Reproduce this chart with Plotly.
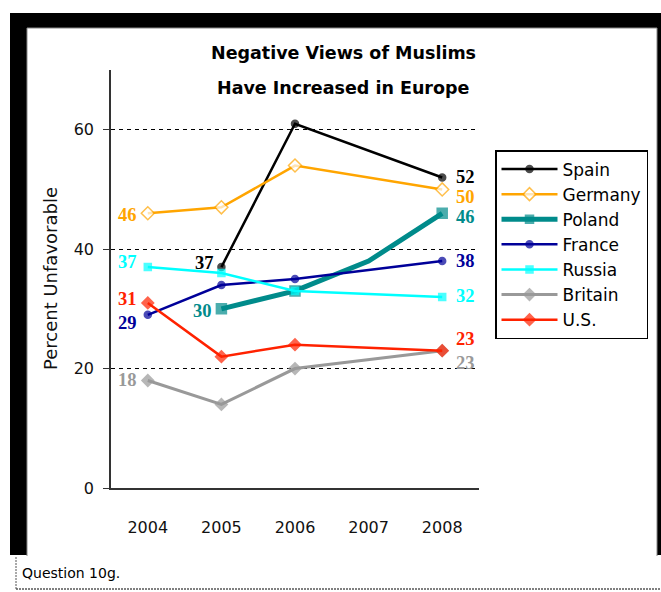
import plotly.graph_objects as go

# ---------------- data ----------------
years = ["2004", "2005", "2006", "2007", "2008"]
spain   = [None, 37, 61, None, 52]
germany = [46, 47, 54, None, 50]
poland  = [None, 30, 33, 38, 46]
france  = [29, 34, 35, None, 38]
russia  = [37, 36, 33, None, 32]
britain = [18, 14, 20, None, 23]
us      = [31, 22, 24, None, 23]
series_names = ["Spain", "Germany", "Poland", "France", "Russia", "Britain", "U.S."]
series_vals = [spain, germany, poland, france, russia, britain, us]
y_ticks = [0, 20, 40, 60]

title1 = "Negative Views of Muslims"
title2 = "Have Increased in Europe"
y_title = "Percent Unfavorable"
footnote = "Question 10g."

# ---------------- styles ----------------
styles = {
    "Spain":   dict(color="#000000", width=2.5, symbol="circle", size=7, fill="#000000"),
    "Germany": dict(color="#FFA500", width=2.5, symbol="diamond", size=10, fill="#FFFFFF"),
    "Poland":  dict(color="#008B8B", width=5, symbol="square", size=10, fill="#008B8B"),
    "France":  dict(color="#000099", width=2.5, symbol="circle", size=7, fill="#000099"),
    "Russia":  dict(color="#00FFFF", width=2.5, symbol="square", size=7, fill="#00FFFF"),
    "Britain": dict(color="#999999", width=3, symbol="diamond", size=9, fill="#999999"),
    "U.S.":    dict(color="#FF2200", width=2.5, symbol="diamond", size=9, fill="#FF2200"),
}
# label placement: (point index, side, xshift, yshift)
label_pos = {
    "Spain":   [(1, "left", -5, 4), (4, "right", 12, 0)],
    "Germany": [(0, "left", -9, -2), (4, "right", 12, -8)],
    "Poland":  [(1, "left", -7, -2), (4, "right", 12, -4)],
    "France":  [(0, "left", -9, -8), (4, "right", 12, 0)],
    "Russia":  [(0, "left", -9, 5), (4, "right", 12, 1)],
    "Britain": [(0, "left", -9, 1), (4, "right", 12, -12)],
    "U.S.":    [(0, "left", -9, 4), (4, "right", 12, 12)],
}

# plot-area pixel box
L, R, T, B = 111, 479, 70, 488
W, H = R - L, B - T
def px(x):
    return (x - L) / W
def py(y):
    return (B - y) / H

fig = go.Figure()
for name, vals in zip(series_names, series_vals):
    st = styles[name]
    sizes = [st["size"]] * len(vals)
    # point present only as a line bend (no marker drawn in the reference)
    if name == "Poland":
        sizes[3] = 0
    fig.add_trace(go.Scatter(
        x=years, y=vals, name=name, mode="lines+markers",
        connectgaps=True,
        line=dict(color=st["color"], width=st["width"]),
        marker=dict(symbol=st["symbol"], size=sizes, color=st["fill"],
                    line=dict(color=st["color"], width=1.5)),
    ))

annotations = []
for name, vals in zip(series_names, series_vals):
    st = styles[name]
    for idx, side, xs, ys in label_pos[name]:
        annotations.append(dict(
            x=idx, y=vals[idx], xref="x", yref="y",
            text="<b>%s</b>" % vals[idx], showarrow=False,
            xanchor="right" if side == "left" else "left", yanchor="middle",
            xshift=xs, yshift=ys,
            font=dict(family="Liberation Serif", size=18.5, color=st["color"]),
        ))

annotations += [
    dict(x=px(343), y=py(53), xref="paper", yref="paper", text="<b>%s</b>" % title1,
         showarrow=False, xanchor="center", yanchor="middle",
         font=dict(family="DejaVu Sans", size=17.5, color="#000")),
    dict(x=px(343), y=py(88), xref="paper", yref="paper", text="<b>%s</b>" % title2,
         showarrow=False, xanchor="center", yanchor="middle",
         font=dict(family="DejaVu Sans", size=17.5, color="#000")),
    dict(x=px(50), y=py(279), xref="paper", yref="paper", text=y_title,
         showarrow=False, textangle=-90, xanchor="center", yanchor="middle",
         font=dict(family="DejaVu Sans", size=18, color="#111")),
    dict(x=px(20), y=py(573), xref="paper", yref="paper", text=footnote,
         showarrow=False, xanchor="left", yanchor="middle",
         font=dict(family="DejaVu Sans", size=14, color="#000")),
]

shapes = [
    # black frame
    dict(type="rect", xref="paper", yref="paper", x0=px(10), x1=px(700), y0=py(555), y1=py(13),
         fillcolor="#000000", line=dict(width=0), layer="below"),
    # inner white panel
    dict(type="rect", xref="paper", yref="paper", x0=px(27), x1=px(657), y0=py(560), y1=py(28),
         fillcolor="#FFFFFF", line=dict(color="#888888", width=1), layer="below"),
    # footnote box
    dict(type="rect", xref="paper", yref="paper", x0=px(16), x1=px(700), y0=py(589), y1=py(556),
         fillcolor="#FFFFFF", line=dict(width=0), layer="below"),
    dict(type="line", xref="paper", yref="paper", x0=px(16), x1=px(700), y0=py(589), y1=py(589),
         line=dict(color="#000000", width=1, dash="2px,1px"), layer="below"),
    dict(type="line", xref="paper", yref="paper", x0=px(16), x1=px(16), y0=py(589), y1=py(556),
         line=dict(color="#555555", width=1, dash="2px,1px"), layer="below"),
]

fig.update_layout(
    width=661, height=592,
    margin=dict(l=L, r=661 - R, t=T, b=592 - B, pad=0),
    paper_bgcolor="#FFFFFF", plot_bgcolor="rgba(0,0,0,0)",
    showlegend=True,
    legend=dict(x=px(495), y=py(150), xanchor="left", yanchor="top",
                bordercolor="#000000", borderwidth=1.5, bgcolor="#FFFFFF",
                font=dict(family="DejaVu Sans", size=17, color="#000"),
                itemwidth=56, tracegroupgap=0),
    annotations=annotations,
    shapes=shapes,
    xaxis=dict(type="category", categoryarray=years, range=[-0.5, 4.5],
               showline=True, linecolor="#333333", linewidth=1.5,
               showgrid=False, zeroline=False, ticks="",
               ticklabelstandoff=24,
               tickfont=dict(family="DejaVu Sans", size=16, color="#111")),
    yaxis=dict(range=[0, 70], tickvals=y_ticks,
               showline=True, linecolor="#333333", linewidth=1.5,
               showgrid=True, gridcolor="#000000", gridwidth=1, griddash="4px,4px",
               zeroline=False, ticks="outside", ticklen=6, tickcolor="#333333",
               ticklabelstandoff=6,
               tickfont=dict(family="DejaVu Sans", size=16, color="#111")),
)

fig.write_html("out.html")
